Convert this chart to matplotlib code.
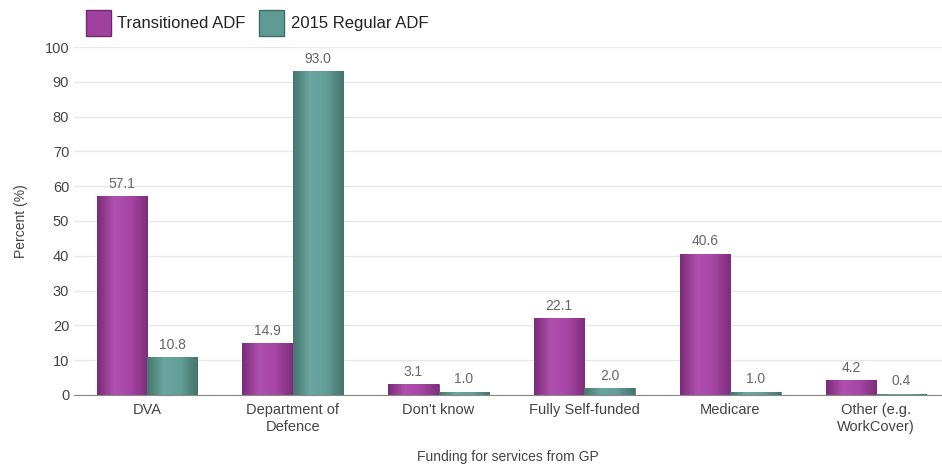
import numpy as np
import matplotlib
matplotlib.use("Agg")
import matplotlib.pyplot as plt
from matplotlib.patches import Patch
from matplotlib.colors import LinearSegmentedColormap

categories = ["DVA", "Department of\nDefence", "Don't know", "Fully Self-funded",
              "Medicare", "Other (e.g.\nWorkCover)"]
transitioned = [57.1, 14.9, 3.1, 22.1, 40.6, 4.2]
regular_2015 = [10.8, 93.0, 1.0, 2.0, 1.0, 0.4]
series_names = ["Transitioned ADF", "2015 Regular ADF"]

purple = "#a1419f"
teal = "#5f9b94"
text_col = "#444444"

# cylinder-like shading across each bar
purple_cmap = LinearSegmentedColormap.from_list("p", ["#7a2c78", "#b050ae", "#a645a4", "#7e2e7c"])
teal_cmap = LinearSegmentedColormap.from_list("t", ["#46776f", "#6aa7a0", "#629d96", "#44746d"])

plt.rcParams['font.family'] = ['Liberation Sans', 'DejaVu Sans']

fig = plt.figure(figsize=(9.42, 4.71), dpi=100)
ax = fig.add_axes([0.0786, 0.1614, 0.921, 0.7388])

x = np.arange(len(categories))
w = 0.345
b1 = ax.bar(x - w / 2, transitioned, w, color=purple, edgecolor="#6e2a6c", linewidth=0.5, zorder=3)
b2 = ax.bar(x + w / 2, regular_2015, w, color=teal, edgecolor="#3f6b66", linewidth=0.5, zorder=3)

grad = np.linspace(0, 1, 64).reshape(1, -1)
for bars, cmap in ((b1, purple_cmap), (b2, teal_cmap)):
    for bar in bars:
        x0, y0 = bar.get_x(), bar.get_y()
        im = ax.imshow(grad, cmap=cmap, aspect="auto", zorder=3.5,
                       extent=(x0, x0 + bar.get_width(), y0, y0 + bar.get_height()))
        im.set_clip_path(bar)

for bars, vals in ((b1, transitioned), (b2, regular_2015)):
    for bar, v in zip(bars, vals):
        ax.text(bar.get_x() + bar.get_width() / 2, v + 1.5, f"{v:.1f}",
                ha="center", va="bottom", fontsize=10, color="#666666")

ax.set_ylim(0, 100)
ax.set_xlim(-0.5, 5.45)
ax.set_yticks(range(0, 101, 10))
ax.set_xticks(x)
ax.set_xticklabels(categories)
ax.tick_params(axis="both", length=0, labelsize=10.5, colors=text_col)
ax.tick_params(axis="x", pad=6)
ax.grid(axis="y", color="#e8e8e8", linewidth=1, zorder=0)
for s in ["top", "right", "left"]:
    ax.spines[s].set_visible(False)
ax.spines["bottom"].set_color("#888888")
ax.spines["bottom"].set_zorder(4)

ax.set_ylabel("Percent (%)", fontsize=10, color=text_col, labelpad=12)
ax.set_xlabel("Funding for services from GP", fontsize=10, color=text_col, labelpad=12)

handles = [Patch(facecolor=purple, edgecolor="#6e2a6c"),
           Patch(facecolor=teal, edgecolor="#3f6b66")]
fig.legend(handles, series_names, loc="upper left", bbox_to_anchor=(0.075, 1.01),
           ncol=2, frameon=False, fontsize=12, handlelength=1.5, handleheight=2.0,
           handletextpad=0.4, columnspacing=0.8, labelcolor="#222222")

fig.savefig("out.png", dpi=100)
